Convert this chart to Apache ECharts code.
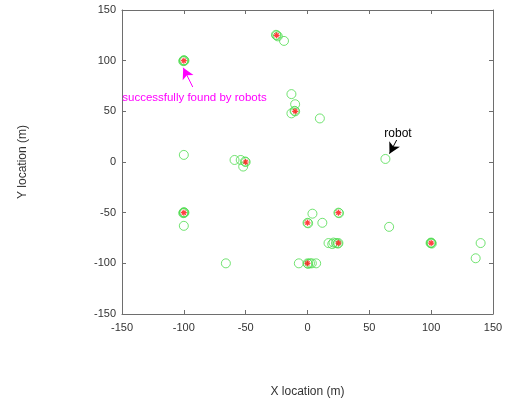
<!DOCTYPE html>
<html>
<head>
<meta charset="utf-8">
<script src="https://cdn.jsdelivr.net/npm/echarts@6/dist/echarts.min.js"></script>
<style>html,body{margin:0;padding:0;background:#fff;}#c{width:510px;height:402px;}</style>
</head>
<body>
<div id="c"></div>
<script>
// Robot positions (green circles)
var robotX = [-100,-100,-99.5,-100.5, -25,-24,-25.5,-19, -13,-10,-13,-10,-10.5, -100, -59,-54,-52,-50,-50.5, 10, 63,
  -100,-100,-99.5,-100.5, -100, -66, -7,0,0.5,2,3.5,7, 0,0.5,4,12,25,25.5, 17,20,21,23,25,24.5, 66, 100,100,99.5,100.5, 140,136];
var robotY = [100,100.5,100,99.5, 125,124,125.5,119.5, 67,57,48,50,50.5, 7, 2,2,-4.5,0,0.5, 43, 3,
  -50,-49.5,-50,-50.5, -63, -100, -100,-100,-100.5,-100,-100,-100, -60,-60.5,-51,-60,-50,-50.5, -80,-81,-79.5,-80,-80,-80.5, -64, -80,-79.5,-80,-80.5, -80,-95];
// Targets found (red stars)
var targetX = [-100,-25,-10,-50,-100,0,25,25,0,100];
var targetY = [100,125,50,0,-50,-60,-50,-80,-100,-80];
// Axis ticks
var tickMin = -150, tickMax = 150, tickStep = 50;
// Annotations (data coords)
var noteFoundText = 'successfully found by robots';
var noteFoundPos = [-91.4, 63.6];
var noteFoundArrow = [[-92.8, 74], [-100.5, 93]];
var noteRobotText = 'robot';
var noteRobotPos = [73.2, 28];
var noteRobotArrow = [[72.1, 21.7], [66.3, 8.2]];

var robots = robotX.map(function(x,i){return [x, robotY[i]];});
var targets = targetX.map(function(x,i){return [x, targetY[i]];});

var font = 'Liberation Sans, Arial, sans-serif';
var chart = echarts.init(document.getElementById('c'), null, {renderer:'canvas'});
function axisBase(pos, showLabel){
  return {
    type:'value', min:tickMin, max:tickMax, interval:tickStep, position:pos,
    axisLine:{show:true, onZero:false, lineStyle:{color:'#6e6e6e', width:1}},
    axisTick:{show:true, inside:true, length:4, lineStyle:{color:'#6e6e6e'}},
    axisLabel:{show:showLabel, color:'#333', fontSize:11, fontFamily:font},
    splitLine:{show:false}
  };
}
var x0 = axisBase('bottom', true);
x0.name = 'X location (m)'; x0.nameLocation='middle'; x0.nameGap=72;
x0.nameTextStyle = {color:'#333', fontSize:12, fontFamily:font};
x0.axisLabel.margin = 8;
var x1 = axisBase('top', false);
var y0 = axisBase('left', true);
y0.name = 'Y location (m)'; y0.nameLocation='middle'; y0.nameGap=93; y0.nameRotate=90;
y0.nameTextStyle = {color:'#333', fontSize:12, fontFamily:font};
y0.axisLabel.margin = 6;
var y1 = axisBase('right', false);

var starPath = 'path://M0,-10L0,10M-10,0L10,0M-7,-7L7,7M-7,7L7,-7';

chart.setOption({
  animation:false,
  backgroundColor:'#fff',
  grid:{left:122, right:17, top:10, bottom:88, containLabel:false, outerBoundsMode:'none'},
  xAxis:[x0, x1],
  yAxis:[y0, y1],
  series:[
    {
      type:'scatter', data:robots, symbol:'circle', symbolSize:9,
      itemStyle:{color:'rgba(0,0,0,0)', borderColor:'#4fdc4f', borderWidth:1},
      z:2,
      markPoint:{
        symbol:'circle', symbolSize:0, silent:true,
        data:[
          {coord:noteFoundPos, label:{show:true, formatter:noteFoundText, color:'#ff00ff', fontSize:11.5, fontFamily:font, position:'inside'}},
          {coord:noteRobotPos, label:{show:true, formatter:noteRobotText, color:'#000', fontSize:12, fontFamily:font, position:'inside'}}
        ]
      },
      markLine:{
        silent:true, symbol:['none','arrow'], symbolSize:[9,11],
        label:{show:false},
        data:[
          [{coord:noteFoundArrow[0], lineStyle:{color:'#ff00ff', width:1, type:'solid'}}, {coord:noteFoundArrow[1]}],
          [{coord:noteRobotArrow[0], lineStyle:{color:'#000', width:1, type:'solid'}, symbolSize:[6,7]}, {coord:noteRobotArrow[1]}]
        ]
      }
    },
    {
      type:'scatter', data:targets, symbol:starPath, symbolSize:6,
      itemStyle:{color:'none', borderColor:'#ff1010', borderWidth:1.2},
      z:3
    }
  ]
});
</script>
</body>
</html>
